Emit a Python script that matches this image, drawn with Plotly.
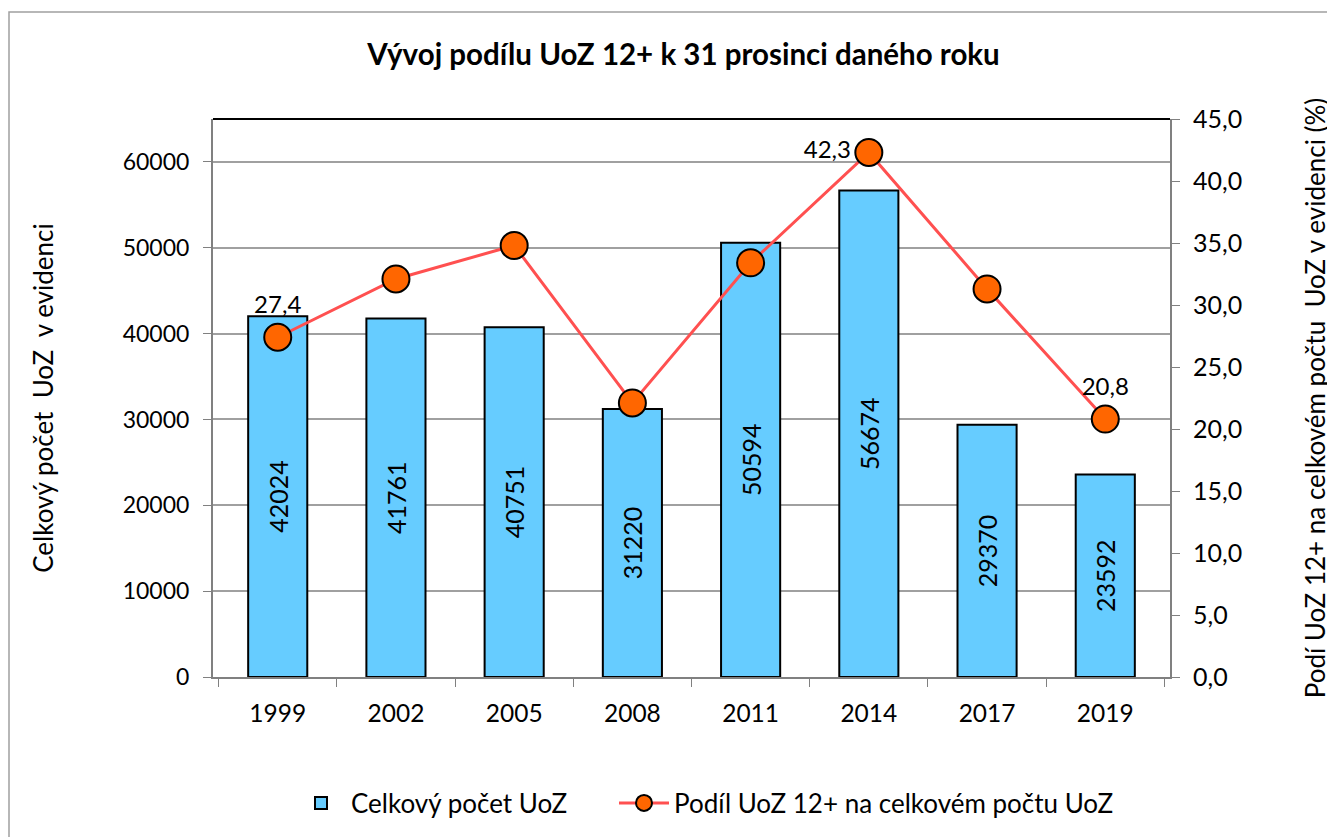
import plotly.graph_objects as go

years = ["1999", "2002", "2005", "2008", "2011", "2014", "2017", "2019"]
total_uoz = [42024, 41761, 40751, 31220, 50594, 56674, 29370, 23592]
share_12 = [27.4, 32.1, 34.8, 22.1, 33.4, 42.3, 31.3, 20.8]
share_labels_shown = [True, False, False, False, False, True, False, True]
share_label_pos = ["top center", "top center", "top center", "top center",
                   "top center", "middle left", "top center", "top center"]

FONT = "Lato, 'Open Sans', sans-serif"

fig = go.Figure()

fig.add_trace(go.Bar(
    x=years, y=total_uoz, name="Celkový počet UoZ",
    marker=dict(color="#66CCFF", line=dict(color="black", width=2)),
    text=[str(v) for v in total_uoz], textposition="inside",
    insidetextanchor="middle", textangle=-90, constraintext="none",
    textfont=dict(family=FONT, size=25, color="black"),
    yaxis="y", legend="legend",
))

fig.add_trace(go.Scatter(
    x=years, y=share_12, name="Podíl UoZ 12+ na celkovém počtu UoZ",
    mode="lines+markers+text",
    line=dict(color="#FF5050", width=3),
    marker=dict(color="#FF6600", size=27, line=dict(color="black", width=2)),
    text=[f"{v:.1f}".replace(".", ",") if s else "" for v, s in zip(share_12, share_labels_shown)],
    textposition=share_label_pos,
    textfont=dict(family=FONT, size=24, color="black"),
    yaxis="y2", cliponaxis=False, legend="legend2",
))

L, R, T, B = 205, 173, 111, 168
PW, PH = 1335 - L - R, 837 - T - B
LEG_Y = (T + PH - 795) / PH

fig.update_layout(
    width=1335, height=837,
    margin=dict(l=L, r=R, t=T, b=B),
    paper_bgcolor="white", plot_bgcolor="white",
    separators=", ",
    font=dict(family=FONT, size=24, color="black"),
    title=dict(text="<b>Vývoj podílu UoZ 12+ k 31 prosinci daného roku</b>",
               x=0.506, xanchor="center", y=1 - 47 / 837, yanchor="middle",
               font=dict(family=FONT, size=29.5, color="black")),
    bargap=0.5,
    showlegend=True,
    legend=dict(orientation="h", x=(283 - L) / PW, xanchor="left",
                y=LEG_Y, yanchor="middle", bgcolor="rgba(0,0,0,0)",
                font=dict(family=FONT, size=26), itemwidth=50),
    legend2=dict(orientation="h", x=(606 - L) / PW, xanchor="left",
                 y=LEG_Y, yanchor="middle", bgcolor="rgba(0,0,0,0)",
                 font=dict(family=FONT, size=26), itemwidth=50),
    xaxis=dict(type="category", showline=True, linecolor="#808080", linewidth=2,
               ticks="outside", tickson="boundaries", ticklen=8, tickcolor="#808080",
               ticklabelstandoff=14,
               tickfont=dict(size=24.5), mirror=False, showgrid=False),
    yaxis=dict(range=[0, 65000], dtick=10000, tick0=0, tickformat="d",
               showline=True, linecolor="#808080", linewidth=2,
               ticks="outside", ticklen=8, tickcolor="#808080",
               ticklabelstandoff=9,
               showgrid=True, gridcolor="#A0A0A0", gridwidth=1.5,
               zeroline=False, tickfont=dict(size=23),
               title=dict(text="Celkový počet  UoZ  v evidenci", font=dict(size=26), standoff=62)),
    yaxis2=dict(range=[0, 45], dtick=5, tick0=0, tickformat=".1f",
                overlaying="y", side="right",
                showline=True, linecolor="#808080", linewidth=2,
                ticks="outside", ticklen=8, tickcolor="#808080",
                ticklabelstandoff=8,
                showgrid=False, zeroline=False, tickfont=dict(size=25),
                title=dict(text="Podí UoZ 12+ na celkovém počtu  UoZ v evidenci (%)",
                           font=dict(size=26), standoff=66)),
    shapes=[
        dict(type="line", xref="paper", yref="paper", x0=0, x1=1, y0=1, y1=1,
             line=dict(color="black", width=2)),
        dict(type="rect", xref="paper", yref="paper",
             x0=(1 - L) / PW, x1=(1345 - L) / PW,
             y0=(T + PH - 850) / PH, y1=(T + PH - 4) / PH,
             line=dict(color="#A0A0A0", width=1.5), layer="below"),
    ],
)

fig.write_html("out.html")
